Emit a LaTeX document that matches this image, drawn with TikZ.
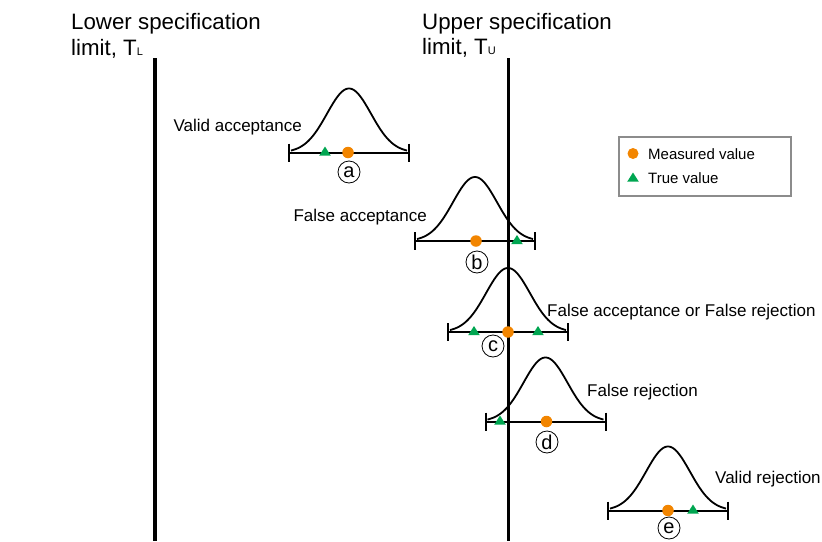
\documentclass[tikz,border=0pt]{standalone}
\usepackage{fontspec}
\setmainfont{Liberation Sans}
\definecolor{measorange}{RGB}{242,133,0}
\definecolor{truegreen}{RGB}{0,166,81}
\definecolor{legendgray}{RGB}{140,140,140}
\tikzset{
  limitline/.style={line width=3.6pt, black},
  barline/.style={line width=2pt, black},
  bellline/.style={line width=1.8pt, black, line join=round},
  meas/.style={circle, fill=measorange, inner sep=0pt, minimum size=11.5pt},
  title/.style={inner sep=0pt, anchor=base west, font=\fontsize{22.3}{25}\selectfont},
  caselabel/.style={inner sep=0pt, font=\fontsize{17}{20}\selectfont},
  legendtext/.style={inner sep=0pt, anchor=base west, font=\fontsize{15}{18}\selectfont},
  tag/.style={circle, draw, line width=0.8pt, inner sep=0pt, minimum size=22pt, font=\fontsize{20}{20}\selectfont},
  truemark/.pic={\fill[truegreen] (-5.8,3.2) -- (5.8,3.2) -- (0,-6) -- cycle;},
  bell/.pic={
    \draw[bellline] plot[domain=-58:58, samples=90, smooth] (\x, {-64*exp(-(\x)^2/968)});
    \draw[barline] (-60,0) -- (60,0);
    \draw[barline] (-60,-9) -- (-60,9);
    \draw[barline] (60,-9) -- (60,9);
  }
}
\begin{document}
\begin{tikzpicture}[x=1pt,y=-1pt]
\useasboundingbox (0,0) rectangle (822,541);

% titles
\node[title] (lowt1) at (71,29) {Lower specification};
\node[title] (lowt2) at (71,55) {limit, T{\fontsize{11}{11}\selectfont L}};
\node[title] (upt1) at (422,29) {Upper specification};
\node[title] (upt2) at (422,54) {limit, T{\fontsize{11}{11}\selectfont U}};

% bell curves
\pic at (349,152.5) {bell};
\pic at (475,241) {bell};
\pic at (508,332) {bell};
\pic at (545.5,421.5) {bell};
\pic at (668,510.5) {bell};

% limit lines
\coordinate (lowtop) at (155,58);
\coordinate (lowbot) at (155,541);
\coordinate (uptop) at (508.5,58);
\coordinate (upbot) at (508.5,541);
\draw[limitline] (lowtop) -- (lowbot);
\draw[limitline] (uptop) -- (upbot);

% markers
\node[meas] (ma) at (348,152.5) {};
\pic at (325,152.5) {truemark};
\node[meas] (mb) at (476,241) {};
\pic at (517,241) {truemark};
\node[meas] (mc) at (508,332) {};
\pic at (474,332) {truemark};
\pic at (538,332) {truemark};
\node[meas] (md) at (546.5,421.5) {};
\pic at (500,421.5) {truemark};
\node[meas] (me) at (668,510.5) {};
\pic at (693,510.5) {truemark};

% circled tags
\node[tag] (ta) at (349,172) {a};
\node[tag] (tb) at (477,262) {b};
\node[tag] (tc) at (493,346) {c};
\node[tag] (td) at (547,442) {d};
\node[tag] (te) at (669,528) {e};

% case labels
\node[caselabel, anchor=base east] (la) at (302,131) {Valid acceptance};
\node[caselabel, anchor=base east] (lb) at (427,221) {False acceptance};
\node[caselabel, anchor=base west] (lc) at (547,316) {False acceptance or False rejection};
\node[caselabel, anchor=base west] (ld) at (587,396) {False rejection};
\node[caselabel, anchor=base west] (le) at (715,483) {Valid rejection};

% legend
\node[draw=legendgray, line width=1.1pt, minimum width=172pt, minimum height=59pt, inner sep=0pt] (legend) at (705,166.5) {};
\node[meas, minimum size=11pt] (legm) at (633,153.5) {};
\node[legendtext] (legmt) at (648,159) {Measured value};
\pic at (633,178.5) {truemark};
\node[legendtext] (legtt) at (648,183) {True value};
\end{tikzpicture}
\end{document}
